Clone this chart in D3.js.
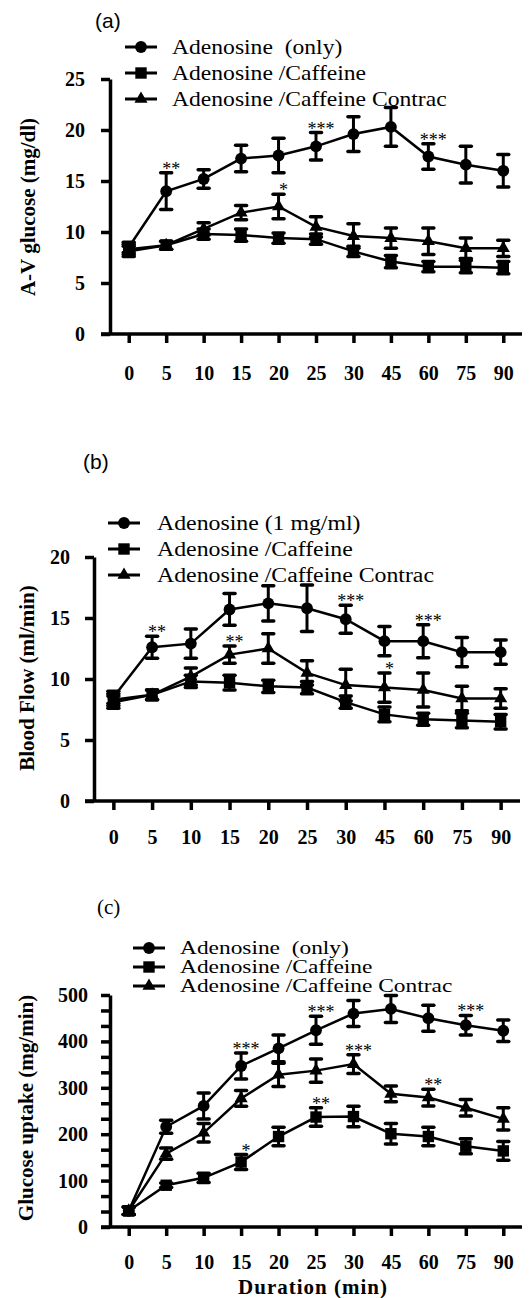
<!DOCTYPE html>
<html>
<head>
<meta charset="utf-8">
<script src="https://cdn.jsdelivr.net/npm/d3@7"></script>
<style>
  body { margin: 0; background: #fff; }
  svg { display: block; }
  text { font-family: 'Liberation Serif', 'Times New Roman', serif; fill: #000; }
  .tick text { font-weight: bold; font-size: 20px; }
  .axis .domain { stroke-width: 3.5; }
  .axis .tick line { stroke-width: 3.5; }
</style>
</head>
<body>
<svg width="529" height="1298"></svg>
<script>
const svg = d3.select('svg');

const times = ['0', '5', '10', '15', '20', '25', '30', '45', '60', '75', '90'];

// (a) A-V glucose (mg/dl)
const avOnly = [8.5, 14.0, 15.2, 17.2, 17.5, 18.4, 19.6, 20.3, 17.4, 16.6, 16.0];
const avOnlyErr = [0.5, 1.8, 0.9, 1.3, 1.7, 1.35, 1.7, 1.9, 1.25, 1.8, 1.6];
const avCaf = [8.1, 8.7, 9.8, 9.7, 9.4, 9.3, 8.1, 7.1, 6.6, 6.6, 6.5];
const avCafErr = [0.5, 0.4, 0.5, 0.6, 0.5, 0.5, 0.5, 0.6, 0.5, 0.6, 0.6];
const avContrac = [8.3, 8.7, 10.3, 11.9, 12.5, 10.5, 9.6, 9.4, 9.1, 8.4, 8.4];
const avContracErr = [0.5, 0.4, 0.6, 0.7, 1.2, 1.0, 1.2, 1.0, 1.3, 1.0, 0.8];

// (b) Blood flow (ml/min)
const bfOnly = [8.5, 12.6, 12.9, 15.7, 16.2, 15.8, 14.9, 13.1, 13.1, 12.2, 12.2];
const bfOnlyErr = [0.5, 0.9, 1.2, 1.3, 1.45, 1.9, 1.15, 1.2, 1.35, 1.2, 1.0];
const bfCaf = [8.1, 8.7, 9.8, 9.7, 9.4, 9.3, 8.1, 7.1, 6.7, 6.6, 6.5];
const bfCafErr = [0.5, 0.4, 0.5, 0.6, 0.5, 0.5, 0.5, 0.6, 0.5, 0.6, 0.6];
const bfContrac = [8.3, 8.7, 10.2, 12.0, 12.5, 10.5, 9.5, 9.3, 9.1, 8.4, 8.4];
const bfContracErr = [0.5, 0.4, 0.7, 0.7, 1.2, 1.0, 1.3, 1.2, 1.4, 1.0, 0.8];

// (c) Glucose uptake (mg/min)
const guOnly = [35, 216, 261, 347, 385, 424, 460, 470, 450, 435, 423];
const guOnlyErr = [8, 14, 28, 28, 29, 30, 28, 29, 28, 21, 23];
const guCaf = [35, 90, 106, 140, 195, 237, 238, 201, 195, 174, 164];
const guCafErr = [8, 5, 10, 16, 20, 20, 22, 22, 20, 16, 20];
const guContrac = [35, 158, 203, 277, 328, 337, 351, 287, 279, 257, 233];
const guContracErr = [8, 12, 20, 17, 25, 25, 20, 17, 18, 18, 24];

const namesA = ['Adenosine  (only)', 'Adenosine /Caffeine', 'Adenosine /Caffeine Contrac'];
const namesB = ['Adenosine (1 mg/ml)', 'Adenosine /Caffeine', 'Adenosine /Caffeine Contrac'];

// significance marks: series index, time, label
const starsA = [[0, '5', '**'], [2, '20', '*'], [0, '25', '***'], [0, '60', '***']];
const starsB = [[0, '5', '**'], [2, '15', '**'], [0, '30', '***'], [2, '45', '*'], [0, '60', '***']];
const starsC = [[1, '15', '*'], [1, '25', '**'], [0, '15', '***'], [0, '25', '***'],
                [2, '30', '***'], [2, '60', '**'], [0, '75', '***']];

const symbols = [
  d3.symbol().type(d3.symbolCircle).size(110),
  d3.symbol().type(d3.symbolSquare).size(130),
  d3.symbol().type(d3.symbolTriangle).size(75)
];

const drawPanel = cfg => {
  const g = svg.append('g');
  const x = d3.scalePoint().domain(times).range([cfg.left, cfg.right]).padding(0.5);
  const y = d3.scaleLinear().domain([0, cfg.max]).range([cfg.bottom, cfg.top]);

  // y axis
  const yAxis = d3.axisLeft(y)
    .tickValues(cfg.yTicks)
    .tickFormat(d => cfg.yLabelled(d) ? d3.format('d')(Math.round(d)) : '')
    .tickSize(9).tickSizeOuter(0).tickPadding(cfg.yPad);
  g.append('g').attr('class', 'axis')
    .attr('transform', `translate(${cfg.left},0)`)
    .call(yAxis);

  // x axis
  const xAxis = d3.axisBottom(x).tickSize(9).tickSizeOuter(0).tickPadding(cfg.xPad);
  const xg = g.append('g').attr('class', 'axis')
    .attr('transform', `translate(0,${cfg.bottom})`)
    .call(xAxis);
  xg.select('.domain').attr('d', `M${cfg.left - 9},0H${cfg.right}`);

  // series
  const line = d3.line().x((d, i) => x(times[i])).y(d => y(d));
  cfg.series.forEach(s => {
    g.append('path')
      .datum(s.mean)
      .attr('fill', 'none')
      .attr('stroke', '#000')
      .attr('stroke-width', 2.5)
      .attr('d', line);
  });
  cfg.series.forEach((s, k) => {
    const eb = g.append('g').selectAll('g').data(s.mean).join('g')
      .attr('transform', (d, i) => `translate(${x(times[i])},0)`);
    eb.append('line')
      .attr('y1', (d, i) => y(d - s.err[i]))
      .attr('y2', (d, i) => y(d + s.err[i]))
      .attr('stroke', '#000').attr('stroke-width', 3);
    [-1, 1].forEach(sign => {
      eb.append('line')
        .attr('x1', -5.5).attr('x2', 5.5)
        .attr('y1', (d, i) => y(d + sign * s.err[i]))
        .attr('y2', (d, i) => y(d + sign * s.err[i]))
        .attr('stroke', '#000').attr('stroke-width', 3.5)
        .attr('stroke-linecap', 'round');
    });
    eb.append('path')
      .attr('d', symbols[k])
      .attr('transform', d => `translate(0,${y(d)})`)
      .attr('fill', '#000');
  });

  // stars
  g.selectAll('.star').data(cfg.stars).join('text')
    .attr('class', 'star')
    .attr('x', d => x(d[1]) + 5)
    .attr('y', d => {
      const s = cfg.series[d[0]];
      const i = times.indexOf(d[1]);
      return y(s.mean[i] + s.err[i]) + 2;
    })
    .attr('text-anchor', 'middle')
    .attr('font-size', 18)
    .text(d => d[2]);

  // y title
  g.append('text')
    .attr('transform', `translate(${cfg.titleX},${cfg.titleY}) rotate(-90)`)
    .attr('text-anchor', 'middle')
    .attr('dominant-baseline', 'central')
    .attr('font-weight', 'bold')
    .attr('font-size', 21)
    .text(cfg.title);

  // legend
  const lg = g.append('g').selectAll('g').data(cfg.names).join('g')
    .attr('transform', (d, i) => `translate(${cfg.legX},${cfg.legY + i * cfg.legGap})`);
  lg.append('line')
    .attr('x1', 0).attr('x2', 32)
    .attr('stroke', '#000').attr('stroke-width', 3);
  lg.append('path')
    .attr('d', (d, i) => symbols[i]())
    .attr('transform', 'translate(16,0)')
    .attr('fill', '#000');
  lg.append('text')
    .attr('transform', `translate(${cfg.legText},0) scale(${cfg.legScale},1)`)
    .attr('dy', '0.33em')
    .attr('font-size', cfg.legFont)
    .style('white-space', 'pre')
    .text(d => d);

  // panel label
  g.append('text')
    .attr('x', cfg.tagX).attr('y', cfg.tagY)
    .attr('font-size', 21)
    .style('font-family', cfg.tagFont)
    .text(cfg.tag);
};

drawPanel({
  left: 110, right: 522, top: 79, bottom: 334, max: 25,
  yTicks: [0, 5, 10, 15, 20, 25], yLabelled: () => true, yPad: 16, xPad: 23,
  series: [
    { mean: avOnly, err: avOnlyErr },
    { mean: avCaf, err: avCafErr },
    { mean: avContrac, err: avContracErr }
  ],
  stars: starsA,
  title: 'A-V glucose (mg/dl)', titleX: 28, titleY: 207,
  names: namesA, legX: 125, legY: 47, legGap: 26, legText: 47, legFont: 20, legScale: 1.18,
  tag: '(a)', tagX: 95, tagY: 28, tagFont: "'Liberation Sans', Arial, sans-serif"
});

drawPanel({
  left: 94, right: 520, top: 557, bottom: 801, max: 20,
  yTicks: [0, 5, 10, 15, 20], yLabelled: () => true, yPad: 15, xPad: 20,
  series: [
    { mean: bfOnly, err: bfOnlyErr },
    { mean: bfCaf, err: bfCafErr },
    { mean: bfContrac, err: bfContracErr }
  ],
  stars: starsB,
  title: 'Blood Flow (ml/min)', titleX: 27, titleY: 678,
  names: namesB, legX: 108, legY: 523, legGap: 26, legText: 49, legFont: 20, legScale: 1.19,
  tag: '(b)', tagX: 83, tagY: 469, tagFont: "'Liberation Sans', Arial, sans-serif"
});

drawPanel({
  left: 110, right: 522, top: 995, bottom: 1227, max: 500,
  yTicks: d3.range(16).map(i => i * 100 / 3), yLabelled: d => Math.round(d) % 100 === 0,
  yPad: 13, xPad: 19,
  series: [
    { mean: guOnly, err: guOnlyErr },
    { mean: guCaf, err: guCafErr },
    { mean: guContrac, err: guContracErr }
  ],
  stars: starsC,
  title: 'Glucose uptake (mg/min)', titleX: 26, titleY: 1108,
  names: namesA, legX: 133, legY: 948, legGap: 19, legText: 47, legFont: 18, legScale: 1.3,
  tag: '(c)', tagX: 97, tagY: 914, tagFont: "'Liberation Serif', 'Times New Roman', serif"
});

svg.append('text')
  .attr('x', 313).attr('y', 1294)
  .attr('text-anchor', 'middle')
  .attr('font-weight', 'bold')
  .attr('font-size', 21)
  .attr('letter-spacing', 1)
  .text('Duration (min)');
</script>
</body>
</html>
